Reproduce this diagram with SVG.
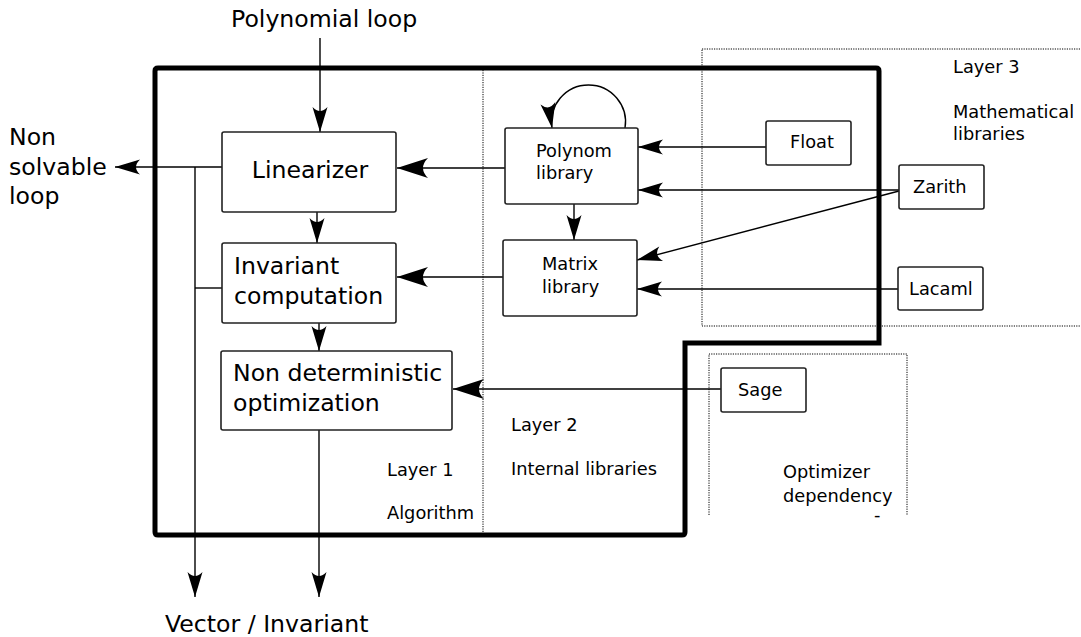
<svg xmlns="http://www.w3.org/2000/svg" width="1081" height="637" viewBox="0 0 1081 637">
<style>
text{font-family:"DejaVu Sans","Liberation Sans",sans-serif;fill:#000}
.big{font-size:23.6px}
.sm{font-size:17.8px}
.node{fill:#fff;stroke:#222;stroke-width:1.6}
.conn{fill:none;stroke:#000;stroke-width:1.4}
.dot{fill:none;stroke:#000;stroke-width:1;stroke-dasharray:1.2 1.2}
</style>
<defs>
<marker id="a" markerUnits="userSpaceOnUse" markerWidth="30" markerHeight="20" refX="25" refY="7.5" orient="auto" overflow="visible">
<path d="M25,7.5 L0,0 Q8,7.5 0,15 Z" fill="#000"/>
</marker>
<marker id="b" markerUnits="userSpaceOnUse" markerWidth="36" markerHeight="24" refX="31" refY="10" orient="auto" overflow="visible">
<path d="M31,10 L0,0 Q10,10 0,20 Z" fill="#000"/>
</marker>
</defs>
<rect width="1081" height="637" fill="#fff"/>
<g id="regions">
<rect class="dot" x="702" y="49" width="420" height="277"/>
<path class="dot" d="M709,515 V354 H907 V515"/>
<line class="dot" x1="483" y1="70" x2="483" y2="532"/>
<path d="M158,68 H876 Q879,68 879,71 V343 H685 V532 Q685,535 682,535 H158 Q155,535 155,532 V71 Q155,68 158,68 Z" fill="none" stroke="#000" stroke-width="5"/>
</g>
<g id="connectors">
<line class="conn" x1="320" y1="38" x2="320" y2="132" marker-end="url(#a)"/>
<line class="conn" x1="317" y1="212" x2="317" y2="243" marker-end="url(#a)"/>
<line class="conn" x1="319" y1="323" x2="319" y2="351" marker-end="url(#a)"/>
<line class="conn" x1="319" y1="430" x2="319" y2="597" marker-end="url(#a)"/>
<line class="conn" x1="222" y1="167" x2="115" y2="167" marker-end="url(#a)"/>
<line class="conn" x1="195" y1="167" x2="195" y2="597" marker-end="url(#a)"/>
<line class="conn" x1="222" y1="288" x2="195" y2="288"/>
<line class="conn" x1="505" y1="168" x2="397" y2="168" marker-end="url(#b)"/>
<line class="conn" x1="503" y1="277" x2="397" y2="277" marker-end="url(#b)"/>
<line class="conn" x1="721" y1="389" x2="453" y2="389" marker-end="url(#b)"/>
<line class="conn" x1="574" y1="204" x2="574" y2="240" marker-end="url(#a)"/>
<line class="conn" x1="766" y1="147" x2="638" y2="147" marker-end="url(#a)"/>
<line class="conn" x1="899" y1="190" x2="638" y2="190" marker-end="url(#a)"/>
<line class="conn" x1="899" y1="191" x2="637" y2="260" marker-end="url(#a)"/>
<line class="conn" x1="898" y1="289" x2="637" y2="289" marker-end="url(#a)"/>
<path class="conn" d="M625,128 A37,37 0 1 0 552,128" marker-end="url(#a)"/>
</g>
<g id="labels">
<text class="big" x="231" y="27">Polynomial loop</text>
<text class="big" x="9" y="145">Non</text>
<text class="big" x="9" y="175">solvable</text>
<text class="big" x="9" y="204">loop</text>
<text class="big" x="165" y="632">Vector / Invariant</text>
<text class="sm" x="953" y="73">Layer 3</text>
<text class="sm" x="953" y="118">Mathematical</text>
<text class="sm" x="953" y="140">libraries</text>
<text class="sm" x="387" y="476">Layer 1</text>
<text class="sm" x="387" y="519">Algorithm</text>
<text class="sm" x="511" y="431">Layer 2</text>
<text class="sm" x="511" y="475">Internal libraries</text>
<text class="sm" x="783" y="478">Optimizer</text>
<text class="sm" x="783" y="502">dependency</text>
<text class="sm" x="874" y="521">-</text>
</g>
<g id="linearizer"><rect class="node" x="222" y="132" width="174" height="80" rx="2"/><text class="big" x="310" y="178" text-anchor="middle">Linearizer</text></g>
<g id="invariant"><rect class="node" x="222" y="243" width="174" height="80" rx="2"/><text class="big" x="234" y="274">Invariant</text><text class="big" x="234" y="304">computation</text></g>
<g id="nondet"><rect class="node" x="221" y="351" width="231" height="79" rx="2"/><text class="big" x="233" y="381">Non deterministic</text><text class="big" x="233" y="411">optimization</text></g>
<g id="polynom"><rect class="node" x="505" y="128" width="133" height="76" rx="2"/><text class="sm" x="536" y="157">Polynom</text><text class="sm" x="536" y="179">library</text></g>
<g id="matrix"><rect class="node" x="503" y="240" width="134" height="76" rx="2"/><text class="sm" x="542" y="270">Matrix</text><text class="sm" x="542" y="293">library</text></g>
<g id="float"><rect class="node" x="766" y="121" width="85" height="44" rx="2"/><text class="sm" x="790" y="148">Float</text></g>
<g id="zarith"><rect class="node" x="899" y="165" width="85" height="44" rx="2"/><text class="sm" x="913" y="193">Zarith</text></g>
<g id="lacaml"><rect class="node" x="898" y="267" width="85" height="43" rx="2"/><text class="sm" x="909" y="295">Lacaml</text></g>
<g id="sage"><rect class="node" x="721" y="368" width="85" height="44" rx="2"/><text class="sm" x="738" y="396">Sage</text></g>
</svg>
